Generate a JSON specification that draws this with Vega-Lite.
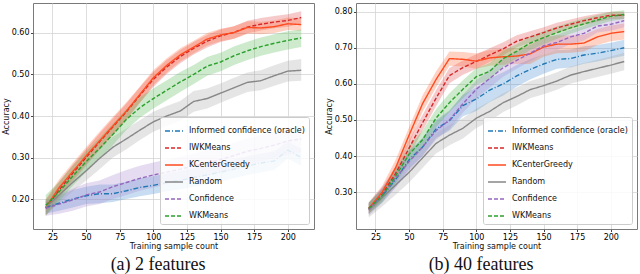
{
"$schema":"https://vega.github.io/schema/vega-lite/v6.json",
"padding":{"left":1,"top":2,"right":2,"bottom":0},
"spacing":9,
"config":{
 "font":"DejaVu Sans",
 "view":{"stroke":"#7a7a7a","strokeWidth":1},
 "axis":{"grid":true,"gridColor":"#d4d4d4","gridWidth":0.8,"domain":false,"tickColor":"#444444","tickSize":2.5,"labelFontSize":8,"labelColor":"#000000","titleFontSize":8,"titleFontWeight":"normal","titleColor":"#111111","labelPadding":1.5,"titlePadding":1},
 "legend":{"orient":"bottom-right","offset":5,"padding":4,"fillColor":"rgba(255,255,255,0.85)","strokeColor":"#cccccc","cornerRadius":2,"labelFontSize":8,"labelColor":"#111111","symbolType":"stroke","symbolSize":324,"symbolStrokeWidth":1.3,"rowPadding":3,"labelOffset":5},
 "title":{"font":"Liberation Serif","fontSize":18,"fontWeight":"normal","color":"#111111","frame":"bounds"}
},
"datasets":{
"a":[
{"s":"Informed confidence (oracle)","x":20,"y":0.180,"lo":0.165,"hi":0.195},
{"s":"Informed confidence (oracle)","x":30,"y":0.190,"lo":0.172,"hi":0.208},
{"s":"Informed confidence (oracle)","x":40,"y":0.200,"lo":0.180,"hi":0.222},
{"s":"Informed confidence (oracle)","x":50,"y":0.208,"lo":0.188,"hi":0.230},
{"s":"Informed confidence (oracle)","x":60,"y":0.213,"lo":0.190,"hi":0.235},
{"s":"Informed confidence (oracle)","x":70,"y":0.213,"lo":0.193,"hi":0.235},
{"s":"Informed confidence (oracle)","x":80,"y":0.220,"lo":0.200,"hi":0.242},
{"s":"Informed confidence (oracle)","x":90,"y":0.228,"lo":0.207,"hi":0.250},
{"s":"Informed confidence (oracle)","x":100,"y":0.233,"lo":0.212,"hi":0.255},
{"s":"Informed confidence (oracle)","x":110,"y":0.240,"lo":0.218,"hi":0.262},
{"s":"Informed confidence (oracle)","x":120,"y":0.245,"lo":0.223,"hi":0.268},
{"s":"Informed confidence (oracle)","x":130,"y":0.252,"lo":0.230,"hi":0.275},
{"s":"Informed confidence (oracle)","x":140,"y":0.258,"lo":0.235,"hi":0.281},
{"s":"Informed confidence (oracle)","x":150,"y":0.265,"lo":0.242,"hi":0.288},
{"s":"Informed confidence (oracle)","x":160,"y":0.272,"lo":0.250,"hi":0.295},
{"s":"Informed confidence (oracle)","x":170,"y":0.280,"lo":0.258,"hi":0.303},
{"s":"Informed confidence (oracle)","x":180,"y":0.287,"lo":0.264,"hi":0.310},
{"s":"Informed confidence (oracle)","x":190,"y":0.292,"lo":0.270,"hi":0.315},
{"s":"Informed confidence (oracle)","x":200,"y":0.318,"lo":0.297,"hi":0.338},
{"s":"Informed confidence (oracle)","x":210,"y":0.300,"lo":0.280,"hi":0.322},
{"s":"IWKMeans","x":20,"y":0.178,"lo":0.160,"hi":0.198},
{"s":"IWKMeans","x":30,"y":0.222,"lo":0.202,"hi":0.242},
{"s":"IWKMeans","x":40,"y":0.262,"lo":0.242,"hi":0.282},
{"s":"IWKMeans","x":50,"y":0.300,"lo":0.280,"hi":0.320},
{"s":"IWKMeans","x":60,"y":0.338,"lo":0.318,"hi":0.358},
{"s":"IWKMeans","x":70,"y":0.374,"lo":0.354,"hi":0.394},
{"s":"IWKMeans","x":80,"y":0.410,"lo":0.390,"hi":0.430},
{"s":"IWKMeans","x":90,"y":0.450,"lo":0.431,"hi":0.469},
{"s":"IWKMeans","x":100,"y":0.488,"lo":0.470,"hi":0.506},
{"s":"IWKMeans","x":110,"y":0.518,"lo":0.501,"hi":0.535},
{"s":"IWKMeans","x":120,"y":0.543,"lo":0.527,"hi":0.559},
{"s":"IWKMeans","x":130,"y":0.563,"lo":0.548,"hi":0.578},
{"s":"IWKMeans","x":140,"y":0.580,"lo":0.565,"hi":0.595},
{"s":"IWKMeans","x":150,"y":0.593,"lo":0.578,"hi":0.608},
{"s":"IWKMeans","x":160,"y":0.601,"lo":0.586,"hi":0.616},
{"s":"IWKMeans","x":170,"y":0.614,"lo":0.599,"hi":0.629},
{"s":"IWKMeans","x":180,"y":0.621,"lo":0.606,"hi":0.636},
{"s":"IWKMeans","x":190,"y":0.626,"lo":0.611,"hi":0.641},
{"s":"IWKMeans","x":200,"y":0.630,"lo":0.615,"hi":0.645},
{"s":"IWKMeans","x":210,"y":0.637,"lo":0.622,"hi":0.652},
{"s":"KCenterGreedy","x":20,"y":0.180,"lo":0.162,"hi":0.200},
{"s":"KCenterGreedy","x":30,"y":0.228,"lo":0.208,"hi":0.248},
{"s":"KCenterGreedy","x":40,"y":0.266,"lo":0.246,"hi":0.287},
{"s":"KCenterGreedy","x":50,"y":0.304,"lo":0.284,"hi":0.325},
{"s":"KCenterGreedy","x":60,"y":0.340,"lo":0.320,"hi":0.362},
{"s":"KCenterGreedy","x":70,"y":0.376,"lo":0.355,"hi":0.398},
{"s":"KCenterGreedy","x":80,"y":0.412,"lo":0.392,"hi":0.433},
{"s":"KCenterGreedy","x":90,"y":0.452,"lo":0.433,"hi":0.471},
{"s":"KCenterGreedy","x":100,"y":0.492,"lo":0.474,"hi":0.510},
{"s":"KCenterGreedy","x":110,"y":0.522,"lo":0.505,"hi":0.539},
{"s":"KCenterGreedy","x":120,"y":0.547,"lo":0.531,"hi":0.563},
{"s":"KCenterGreedy","x":130,"y":0.566,"lo":0.551,"hi":0.581},
{"s":"KCenterGreedy","x":140,"y":0.585,"lo":0.570,"hi":0.600},
{"s":"KCenterGreedy","x":150,"y":0.595,"lo":0.580,"hi":0.610},
{"s":"KCenterGreedy","x":160,"y":0.601,"lo":0.586,"hi":0.616},
{"s":"KCenterGreedy","x":170,"y":0.613,"lo":0.598,"hi":0.628},
{"s":"KCenterGreedy","x":180,"y":0.612,"lo":0.597,"hi":0.627},
{"s":"KCenterGreedy","x":190,"y":0.615,"lo":0.600,"hi":0.630},
{"s":"KCenterGreedy","x":200,"y":0.622,"lo":0.607,"hi":0.637},
{"s":"KCenterGreedy","x":210,"y":0.620,"lo":0.605,"hi":0.635},
{"s":"Random","x":20,"y":0.180,"lo":0.162,"hi":0.198},
{"s":"Random","x":30,"y":0.210,"lo":0.190,"hi":0.230},
{"s":"Random","x":40,"y":0.240,"lo":0.218,"hi":0.262},
{"s":"Random","x":50,"y":0.268,"lo":0.245,"hi":0.292},
{"s":"Random","x":60,"y":0.298,"lo":0.272,"hi":0.322},
{"s":"Random","x":70,"y":0.325,"lo":0.300,"hi":0.350},
{"s":"Random","x":80,"y":0.345,"lo":0.320,"hi":0.370},
{"s":"Random","x":90,"y":0.366,"lo":0.342,"hi":0.390},
{"s":"Random","x":100,"y":0.386,"lo":0.362,"hi":0.410},
{"s":"Random","x":110,"y":0.400,"lo":0.376,"hi":0.424},
{"s":"Random","x":120,"y":0.412,"lo":0.388,"hi":0.436},
{"s":"Random","x":130,"y":0.435,"lo":0.410,"hi":0.460},
{"s":"Random","x":140,"y":0.442,"lo":0.418,"hi":0.466},
{"s":"Random","x":150,"y":0.455,"lo":0.432,"hi":0.478},
{"s":"Random","x":160,"y":0.468,"lo":0.445,"hi":0.492},
{"s":"Random","x":170,"y":0.481,"lo":0.458,"hi":0.505},
{"s":"Random","x":180,"y":0.485,"lo":0.462,"hi":0.510},
{"s":"Random","x":190,"y":0.497,"lo":0.473,"hi":0.522},
{"s":"Random","x":200,"y":0.508,"lo":0.483,"hi":0.533},
{"s":"Random","x":210,"y":0.510,"lo":0.485,"hi":0.537},
{"s":"Confidence","x":20,"y":0.178,"lo":0.160,"hi":0.196},
{"s":"Confidence","x":30,"y":0.188,"lo":0.165,"hi":0.212},
{"s":"Confidence","x":40,"y":0.198,"lo":0.172,"hi":0.225},
{"s":"Confidence","x":50,"y":0.210,"lo":0.182,"hi":0.238},
{"s":"Confidence","x":60,"y":0.217,"lo":0.188,"hi":0.245},
{"s":"Confidence","x":70,"y":0.230,"lo":0.200,"hi":0.258},
{"s":"Confidence","x":80,"y":0.240,"lo":0.210,"hi":0.270},
{"s":"Confidence","x":90,"y":0.250,"lo":0.220,"hi":0.280},
{"s":"Confidence","x":100,"y":0.258,"lo":0.228,"hi":0.288},
{"s":"Confidence","x":110,"y":0.265,"lo":0.235,"hi":0.295},
{"s":"Confidence","x":120,"y":0.272,"lo":0.242,"hi":0.302},
{"s":"Confidence","x":130,"y":0.280,"lo":0.250,"hi":0.310},
{"s":"Confidence","x":140,"y":0.287,"lo":0.257,"hi":0.318},
{"s":"Confidence","x":150,"y":0.295,"lo":0.265,"hi":0.326},
{"s":"Confidence","x":160,"y":0.305,"lo":0.273,"hi":0.336},
{"s":"Confidence","x":170,"y":0.315,"lo":0.283,"hi":0.346},
{"s":"Confidence","x":180,"y":0.322,"lo":0.290,"hi":0.354},
{"s":"Confidence","x":190,"y":0.330,"lo":0.298,"hi":0.362},
{"s":"Confidence","x":200,"y":0.340,"lo":0.306,"hi":0.372},
{"s":"Confidence","x":210,"y":0.345,"lo":0.312,"hi":0.378},
{"s":"WKMeans","x":20,"y":0.185,"lo":0.160,"hi":0.210},
{"s":"WKMeans","x":30,"y":0.218,"lo":0.195,"hi":0.242},
{"s":"WKMeans","x":40,"y":0.255,"lo":0.232,"hi":0.280},
{"s":"WKMeans","x":50,"y":0.290,"lo":0.265,"hi":0.315},
{"s":"WKMeans","x":60,"y":0.322,"lo":0.297,"hi":0.347},
{"s":"WKMeans","x":70,"y":0.356,"lo":0.330,"hi":0.382},
{"s":"WKMeans","x":80,"y":0.392,"lo":0.367,"hi":0.417},
{"s":"WKMeans","x":90,"y":0.420,"lo":0.396,"hi":0.445},
{"s":"WKMeans","x":100,"y":0.442,"lo":0.418,"hi":0.466},
{"s":"WKMeans","x":110,"y":0.462,"lo":0.438,"hi":0.486},
{"s":"WKMeans","x":120,"y":0.482,"lo":0.458,"hi":0.506},
{"s":"WKMeans","x":130,"y":0.500,"lo":0.477,"hi":0.523},
{"s":"WKMeans","x":140,"y":0.520,"lo":0.497,"hi":0.542},
{"s":"WKMeans","x":150,"y":0.530,"lo":0.508,"hi":0.552},
{"s":"WKMeans","x":160,"y":0.545,"lo":0.523,"hi":0.567},
{"s":"WKMeans","x":170,"y":0.557,"lo":0.535,"hi":0.579},
{"s":"WKMeans","x":180,"y":0.567,"lo":0.545,"hi":0.589},
{"s":"WKMeans","x":190,"y":0.575,"lo":0.553,"hi":0.597},
{"s":"WKMeans","x":200,"y":0.582,"lo":0.560,"hi":0.604},
{"s":"WKMeans","x":210,"y":0.588,"lo":0.566,"hi":0.608}
],
"b":[
{"s":"Informed confidence (oracle)","x":20,"y":0.255,"lo":0.240,"hi":0.270},
{"s":"Informed confidence (oracle)","x":30,"y":0.290,"lo":0.272,"hi":0.308},
{"s":"Informed confidence (oracle)","x":40,"y":0.335,"lo":0.315,"hi":0.355},
{"s":"Informed confidence (oracle)","x":50,"y":0.390,"lo":0.365,"hi":0.415},
{"s":"Informed confidence (oracle)","x":60,"y":0.425,"lo":0.400,"hi":0.450},
{"s":"Informed confidence (oracle)","x":70,"y":0.475,"lo":0.450,"hi":0.500},
{"s":"Informed confidence (oracle)","x":80,"y":0.498,"lo":0.470,"hi":0.526},
{"s":"Informed confidence (oracle)","x":90,"y":0.540,"lo":0.510,"hi":0.570},
{"s":"Informed confidence (oracle)","x":100,"y":0.558,"lo":0.525,"hi":0.590},
{"s":"Informed confidence (oracle)","x":110,"y":0.583,"lo":0.550,"hi":0.615},
{"s":"Informed confidence (oracle)","x":120,"y":0.600,"lo":0.568,"hi":0.632},
{"s":"Informed confidence (oracle)","x":130,"y":0.622,"lo":0.592,"hi":0.652},
{"s":"Informed confidence (oracle)","x":140,"y":0.640,"lo":0.612,"hi":0.668},
{"s":"Informed confidence (oracle)","x":150,"y":0.655,"lo":0.628,"hi":0.682},
{"s":"Informed confidence (oracle)","x":160,"y":0.668,"lo":0.642,"hi":0.694},
{"s":"Informed confidence (oracle)","x":170,"y":0.670,"lo":0.645,"hi":0.695},
{"s":"Informed confidence (oracle)","x":180,"y":0.680,"lo":0.656,"hi":0.704},
{"s":"Informed confidence (oracle)","x":190,"y":0.685,"lo":0.662,"hi":0.708},
{"s":"Informed confidence (oracle)","x":200,"y":0.692,"lo":0.670,"hi":0.714},
{"s":"Informed confidence (oracle)","x":210,"y":0.700,"lo":0.678,"hi":0.722},
{"s":"IWKMeans","x":20,"y":0.255,"lo":0.240,"hi":0.270},
{"s":"IWKMeans","x":30,"y":0.295,"lo":0.278,"hi":0.312},
{"s":"IWKMeans","x":40,"y":0.352,"lo":0.332,"hi":0.372},
{"s":"IWKMeans","x":50,"y":0.422,"lo":0.400,"hi":0.444},
{"s":"IWKMeans","x":60,"y":0.492,"lo":0.470,"hi":0.514},
{"s":"IWKMeans","x":70,"y":0.560,"lo":0.538,"hi":0.582},
{"s":"IWKMeans","x":80,"y":0.623,"lo":0.602,"hi":0.644},
{"s":"IWKMeans","x":90,"y":0.645,"lo":0.625,"hi":0.665},
{"s":"IWKMeans","x":100,"y":0.662,"lo":0.642,"hi":0.682},
{"s":"IWKMeans","x":110,"y":0.680,"lo":0.661,"hi":0.699},
{"s":"IWKMeans","x":120,"y":0.697,"lo":0.679,"hi":0.715},
{"s":"IWKMeans","x":130,"y":0.718,"lo":0.701,"hi":0.735},
{"s":"IWKMeans","x":140,"y":0.730,"lo":0.714,"hi":0.746},
{"s":"IWKMeans","x":150,"y":0.742,"lo":0.727,"hi":0.757},
{"s":"IWKMeans","x":160,"y":0.755,"lo":0.741,"hi":0.769},
{"s":"IWKMeans","x":170,"y":0.765,"lo":0.752,"hi":0.778},
{"s":"IWKMeans","x":180,"y":0.775,"lo":0.763,"hi":0.787},
{"s":"IWKMeans","x":190,"y":0.783,"lo":0.772,"hi":0.794},
{"s":"IWKMeans","x":200,"y":0.790,"lo":0.780,"hi":0.800},
{"s":"IWKMeans","x":210,"y":0.790,"lo":0.780,"hi":0.800},
{"s":"KCenterGreedy","x":20,"y":0.255,"lo":0.240,"hi":0.272},
{"s":"KCenterGreedy","x":30,"y":0.300,"lo":0.282,"hi":0.318},
{"s":"KCenterGreedy","x":40,"y":0.368,"lo":0.345,"hi":0.390},
{"s":"KCenterGreedy","x":50,"y":0.458,"lo":0.435,"hi":0.480},
{"s":"KCenterGreedy","x":60,"y":0.545,"lo":0.522,"hi":0.568},
{"s":"KCenterGreedy","x":70,"y":0.612,"lo":0.590,"hi":0.634},
{"s":"KCenterGreedy","x":80,"y":0.670,"lo":0.650,"hi":0.690},
{"s":"KCenterGreedy","x":90,"y":0.668,"lo":0.648,"hi":0.688},
{"s":"KCenterGreedy","x":100,"y":0.663,"lo":0.642,"hi":0.684},
{"s":"KCenterGreedy","x":110,"y":0.672,"lo":0.650,"hi":0.694},
{"s":"KCenterGreedy","x":120,"y":0.675,"lo":0.653,"hi":0.697},
{"s":"KCenterGreedy","x":130,"y":0.677,"lo":0.655,"hi":0.699},
{"s":"KCenterGreedy","x":140,"y":0.683,"lo":0.655,"hi":0.711},
{"s":"KCenterGreedy","x":150,"y":0.702,"lo":0.675,"hi":0.729},
{"s":"KCenterGreedy","x":160,"y":0.710,"lo":0.685,"hi":0.735},
{"s":"KCenterGreedy","x":170,"y":0.710,"lo":0.686,"hi":0.734},
{"s":"KCenterGreedy","x":180,"y":0.713,"lo":0.690,"hi":0.736},
{"s":"KCenterGreedy","x":190,"y":0.730,"lo":0.708,"hi":0.752},
{"s":"KCenterGreedy","x":200,"y":0.740,"lo":0.718,"hi":0.762},
{"s":"KCenterGreedy","x":210,"y":0.745,"lo":0.723,"hi":0.767},
{"s":"Random","x":20,"y":0.250,"lo":0.230,"hi":0.270},
{"s":"Random","x":30,"y":0.285,"lo":0.260,"hi":0.310},
{"s":"Random","x":40,"y":0.320,"lo":0.293,"hi":0.347},
{"s":"Random","x":50,"y":0.355,"lo":0.327,"hi":0.383},
{"s":"Random","x":60,"y":0.395,"lo":0.367,"hi":0.423},
{"s":"Random","x":70,"y":0.435,"lo":0.407,"hi":0.463},
{"s":"Random","x":80,"y":0.458,"lo":0.430,"hi":0.486},
{"s":"Random","x":90,"y":0.477,"lo":0.449,"hi":0.505},
{"s":"Random","x":100,"y":0.505,"lo":0.478,"hi":0.532},
{"s":"Random","x":110,"y":0.524,"lo":0.497,"hi":0.551},
{"s":"Random","x":120,"y":0.548,"lo":0.522,"hi":0.574},
{"s":"Random","x":130,"y":0.565,"lo":0.540,"hi":0.590},
{"s":"Random","x":140,"y":0.584,"lo":0.560,"hi":0.608},
{"s":"Random","x":150,"y":0.595,"lo":0.571,"hi":0.619},
{"s":"Random","x":160,"y":0.608,"lo":0.584,"hi":0.632},
{"s":"Random","x":170,"y":0.624,"lo":0.600,"hi":0.648},
{"s":"Random","x":180,"y":0.634,"lo":0.610,"hi":0.658},
{"s":"Random","x":190,"y":0.643,"lo":0.619,"hi":0.667},
{"s":"Random","x":200,"y":0.652,"lo":0.628,"hi":0.676},
{"s":"Random","x":210,"y":0.662,"lo":0.638,"hi":0.686},
{"s":"Confidence","x":20,"y":0.252,"lo":0.235,"hi":0.270},
{"s":"Confidence","x":30,"y":0.292,"lo":0.270,"hi":0.314},
{"s":"Confidence","x":40,"y":0.338,"lo":0.312,"hi":0.364},
{"s":"Confidence","x":50,"y":0.385,"lo":0.360,"hi":0.410},
{"s":"Confidence","x":60,"y":0.425,"lo":0.400,"hi":0.450},
{"s":"Confidence","x":70,"y":0.470,"lo":0.445,"hi":0.495},
{"s":"Confidence","x":80,"y":0.500,"lo":0.475,"hi":0.525},
{"s":"Confidence","x":90,"y":0.545,"lo":0.520,"hi":0.570},
{"s":"Confidence","x":100,"y":0.585,"lo":0.560,"hi":0.610},
{"s":"Confidence","x":110,"y":0.615,"lo":0.590,"hi":0.640},
{"s":"Confidence","x":120,"y":0.645,"lo":0.620,"hi":0.670},
{"s":"Confidence","x":130,"y":0.665,"lo":0.642,"hi":0.688},
{"s":"Confidence","x":140,"y":0.685,"lo":0.663,"hi":0.707},
{"s":"Confidence","x":150,"y":0.705,"lo":0.683,"hi":0.727},
{"s":"Confidence","x":160,"y":0.715,"lo":0.694,"hi":0.736},
{"s":"Confidence","x":170,"y":0.730,"lo":0.710,"hi":0.750},
{"s":"Confidence","x":180,"y":0.740,"lo":0.720,"hi":0.760},
{"s":"Confidence","x":190,"y":0.760,"lo":0.742,"hi":0.778},
{"s":"Confidence","x":200,"y":0.765,"lo":0.747,"hi":0.783},
{"s":"Confidence","x":210,"y":0.775,"lo":0.757,"hi":0.793},
{"s":"WKMeans","x":20,"y":0.255,"lo":0.240,"hi":0.272},
{"s":"WKMeans","x":30,"y":0.290,"lo":0.272,"hi":0.308},
{"s":"WKMeans","x":40,"y":0.345,"lo":0.325,"hi":0.365},
{"s":"WKMeans","x":50,"y":0.405,"lo":0.382,"hi":0.428},
{"s":"WKMeans","x":60,"y":0.445,"lo":0.420,"hi":0.470},
{"s":"WKMeans","x":70,"y":0.505,"lo":0.480,"hi":0.530},
{"s":"WKMeans","x":80,"y":0.548,"lo":0.522,"hi":0.574},
{"s":"WKMeans","x":90,"y":0.585,"lo":0.560,"hi":0.610},
{"s":"WKMeans","x":100,"y":0.620,"lo":0.597,"hi":0.643},
{"s":"WKMeans","x":110,"y":0.635,"lo":0.612,"hi":0.658},
{"s":"WKMeans","x":120,"y":0.670,"lo":0.648,"hi":0.692},
{"s":"WKMeans","x":130,"y":0.690,"lo":0.670,"hi":0.710},
{"s":"WKMeans","x":140,"y":0.713,"lo":0.694,"hi":0.732},
{"s":"WKMeans","x":150,"y":0.728,"lo":0.710,"hi":0.746},
{"s":"WKMeans","x":160,"y":0.742,"lo":0.725,"hi":0.759},
{"s":"WKMeans","x":170,"y":0.755,"lo":0.739,"hi":0.771},
{"s":"WKMeans","x":180,"y":0.766,"lo":0.751,"hi":0.781},
{"s":"WKMeans","x":190,"y":0.777,"lo":0.763,"hi":0.791},
{"s":"WKMeans","x":200,"y":0.787,"lo":0.774,"hi":0.800},
{"s":"WKMeans","x":210,"y":0.792,"lo":0.780,"hi":0.804}
]
},
"hconcat":[
{
 "width":281,"height":226,
 "data":{"name":"a"},
 "title":{"text":"(a) 2 features","orient":"bottom","anchor":"middle","offset":6},
 "layer":[
  {"mark":{"type":"area","opacity":0.3},
   "encoding":{
    "x":{"field":"x","type":"quantitative","scale":{"domain":[10.5,219.5],"nice":false,"zero":false},"axis":{"values":[25,50,75,100,125,150,175,200],"title":"Training sample count"}},
    "y":{"field":"lo","type":"quantitative","scale":{"domain":[0.128,0.672],"nice":false,"zero":false},"axis":{"values":[0.2,0.3,0.4,0.5,0.6],"format":".2f","title":"Accuracy"}},
    "y2":{"field":"hi"},
    "fill":{"field":"s","type":"nominal","legend":null,"scale":{"range":["#a98ad0","#e05050","#4a90d0","#ff6a3a","#aaaaaa","#5ab85a"]}}
   }},
  {"mark":{"type":"line","strokeWidth":1.4},
   "encoding":{
    "x":{"field":"x","type":"quantitative"},
    "y":{"field":"y","type":"quantitative"},
    "color":{"field":"s","type":"nominal","title":null,"scale":{"domain":["Informed confidence (oracle)","IWKMeans","KCenterGreedy","Random","Confidence","WKMeans"],"range":["#1f77b4","#d62728","#ff4b1f","#888888","#9467bd","#2ca02c"]}},
    "strokeDash":{"field":"s","type":"nominal","title":null,"scale":{"domain":["Informed confidence (oracle)","IWKMeans","KCenterGreedy","Random","Confidence","WKMeans"],"range":[[5,2,1,2],[4,2],[1,0],[1,0],[4,2],[4,2]]}}
   }}
 ]
},
{
 "width":281,"height":226,
 "data":{"name":"b"},
 "title":{"text":"(b) 40 features","orient":"bottom","anchor":"middle","offset":6},
 "layer":[
  {"mark":{"type":"area","opacity":0.3},
   "encoding":{
    "x":{"field":"x","type":"quantitative","scale":{"domain":[10.5,219.5],"nice":false,"zero":false},"axis":{"values":[25,50,75,100,125,150,175,200],"title":"Training sample count"}},
    "y":{"field":"lo","type":"quantitative","scale":{"domain":[0.198,0.824],"nice":false,"zero":false},"axis":{"values":[0.3,0.4,0.5,0.6,0.7,0.8],"format":".2f","title":"Accuracy"}},
    "y2":{"field":"hi"},
    "fill":{"field":"s","type":"nominal","legend":null,"scale":{"range":["#a98ad0","#e05050","#4a90d0","#ff6a3a","#aaaaaa","#5ab85a"]}}
   }},
  {"mark":{"type":"line","strokeWidth":1.4},
   "encoding":{
    "x":{"field":"x","type":"quantitative"},
    "y":{"field":"y","type":"quantitative"},
    "color":{"field":"s","type":"nominal","title":null,"scale":{"domain":["Informed confidence (oracle)","IWKMeans","KCenterGreedy","Random","Confidence","WKMeans"],"range":["#1f77b4","#d62728","#ff4b1f","#888888","#9467bd","#2ca02c"]}},
    "strokeDash":{"field":"s","type":"nominal","title":null,"scale":{"domain":["Informed confidence (oracle)","IWKMeans","KCenterGreedy","Random","Confidence","WKMeans"],"range":[[5,2,1,2],[4,2],[1,0],[1,0],[4,2],[4,2]]}}
   }}
 ]
}
],
"resolve":{"scale":{"y":"independent","color":"independent","strokeDash":"independent","fill":"independent"}}
}
